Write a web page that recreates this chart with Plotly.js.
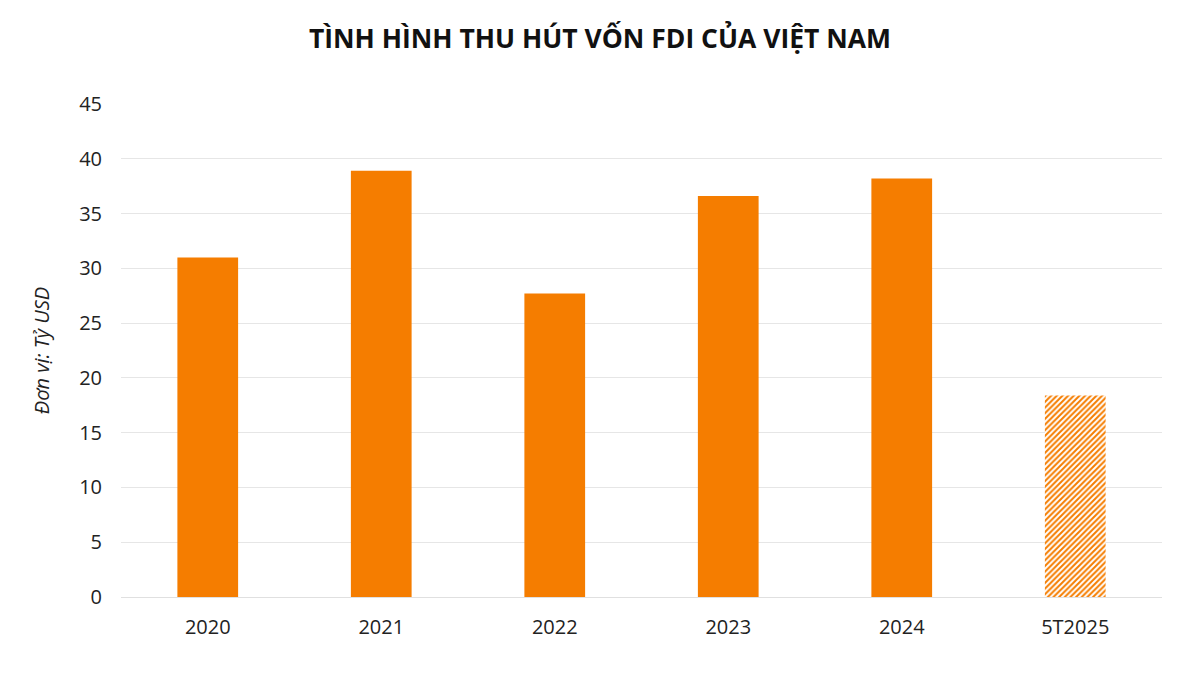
<!DOCTYPE html>
<html>
<head>
<meta charset="utf-8">
<script src="https://cdn.plot.ly/plotly-3.0.1.min.js"></script>
<style>
  html, body { margin: 0; padding: 0; background: #fff; }
  #chart { width: 1200px; height: 675px; }
</style>
</head>
<body>
<div id="chart"></div>
<script>
var years = ['2020', '2021', '2022', '2023', '2024', '5T2025'];
var fdiValues = [31.0, 38.9, 27.7, 36.6, 38.2, 18.4];
var yTicks = [0, 5, 10, 15, 20, 25, 30, 35, 40, 45];

function drawChart() {
    var LOC = document.getElementById('chart');
    var orange = '#f57d00';
    var n = years.length;

    // full years: solid bars
    var trace1 = {
        x: years.slice(0, n - 1),
        y: fdiValues.slice(0, n - 1),
        type: 'bar',
        width: 0.35,
        marker: {color: orange, line: {width: 0}}
    };

    // 5 months of 2025: hatched bar
    var trace2 = {
        x: years.slice(n - 1),
        y: fdiValues.slice(n - 1),
        type: 'bar',
        width: 0.35,
        marker: {
            color: '#ffffff',
            line: {width: 0},
            pattern: {
                shape: '/',
                fgcolor: orange,
                bgcolor: '#ffffff',
                size: 4,
                solidity: 0.5
            }
        }
    };

    var layout = {
        width: 1200,
        height: 675,
        paper_bgcolor: '#ffffff',
        plot_bgcolor: '#ffffff',
        font: {family: '"Open Sans", sans-serif', color: '#222222', size: 20},
        margin: {l: 121, r: 38, t: 104, b: 78},
        showlegend: false,
        barmode: 'overlay',
        title: {
            text: '<b>TÌNH HÌNH THU HÚT VỐN FDI CỦA VIỆT NAM</b>',
            font: {family: '"Open Sans", sans-serif', size: 26.5, color: '#111111'},
            x: 0.5,
            xanchor: 'center',
            y: 0.943,
            yanchor: 'middle'
        },
        xaxis: {
            type: 'category',
            categoryorder: 'array',
            categoryarray: years,
            showgrid: false,
            showline: false,
            ticks: '',
            ticklabelstandoff: 16,
            tickfont: {size: 20, color: '#222222'}
        },
        yaxis: {
            range: [0, 45],
            tickvals: yTicks,
            showgrid: true,
            gridcolor: '#e6e6e6',
            gridwidth: 1,
            zeroline: true,
            zerolinecolor: '#e0e0e0',
            zerolinewidth: 1,
            showline: false,
            ticks: '',
            ticklabelstandoff: 18,
            tickfont: {size: 20, color: '#222222'},
            title: {
                text: '<i>Đơn vị: Tỷ USD</i>',
                font: {size: 20, color: '#222222'},
                standoff: 24
            }
        }
    };

    Plotly.newPlot(LOC, [trace1, trace2], layout, {displayModeBar: false});
}

drawChart();
</script>
</body>
</html>
